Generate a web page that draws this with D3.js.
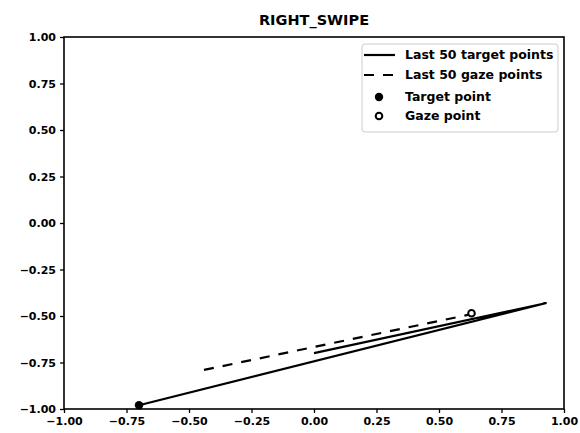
<!DOCTYPE html>
<html>
<head>
<meta charset="utf-8">
<script src="https://cdn.jsdelivr.net/npm/d3@7"></script>
<style>
  body { margin: 0; background: #fff; }
  text { font-family: "DejaVu Sans", sans-serif; fill: #000; }
</style>
</head>
<body>
<div id="VizBox"></div>
<script>
// data
var targetX = [0.00, 0.93, -0.70];
var targetY = [-0.70, -0.43, -0.98];
var gazeX = [-0.44, 0.63];
var gazeY = [-0.79, -0.49];
var targetPoint = [-0.70, -0.98];
var gazePoint = [0.63, -0.485];
var ticks = [-1.00, -0.75, -0.50, -0.25, 0.00, 0.25, 0.50, 0.75, 1.00];
var legendLabels = ["Last 50 target points", "Last 50 gaze points", "Target point", "Gaze point"];

var margin = {top: 37, right: 16, bottom: 24, left: 64},
    width = 580 - margin.left - margin.right,
    height = 433 - margin.top - margin.bottom;

var svg = d3.select("#VizBox")
  .append("svg")
    .attr("width", 580)
    .attr("height", 433)
  .append("g")
    .attr("transform", "translate(" + margin.left + "," + margin.top + ")");

var x = d3.scaleLinear().domain([-1, 1]).range([0, width]);
var y = d3.scaleLinear().domain([-1, 1]).range([height, 0]);

var fmt = function(d) { return d3.format(".2f")(d).replace("-", "\u2212"); };

var xAxis = svg.append("g")
  .attr("transform", "translate(0," + height + ")")
  .call(d3.axisBottom(x).tickValues(ticks).tickFormat(fmt).tickSize(4).tickPadding(4));
var yAxis = svg.append("g")
  .call(d3.axisLeft(y).tickValues(ticks).tickFormat(fmt).tickSize(4).tickPadding(4));

[xAxis, yAxis].forEach(function(a) {
  a.select(".domain").remove();
  a.selectAll(".tick line").attr("stroke", "#000").attr("stroke-width", 1.3);
  a.selectAll(".tick text").style("font-size", "11px").style("font-weight", "bold")
    .style("font-family", "DejaVu Sans");
});

// frame
svg.append("rect")
  .attr("width", width).attr("height", height)
  .attr("fill", "none").attr("stroke", "#000").attr("stroke-width", 1.6);

var line = d3.line()
  .x(function(d) { return x(d[0]); })
  .y(function(d) { return y(d[1]); });

var target = targetX.map(function(v, i) { return [v, targetY[i]]; });
var gaze = gazeX.map(function(v, i) { return [v, gazeY[i]]; });

svg.append("path").datum(target)
  .attr("d", line).attr("fill", "none").attr("stroke", "#000").attr("stroke-width", 2.2);
svg.append("path").datum(gaze)
  .attr("d", line).attr("fill", "none").attr("stroke", "#000").attr("stroke-width", 2.2)
  .attr("stroke-dasharray", "10,9");

svg.append("circle")
  .attr("cx", x(targetPoint[0])).attr("cy", y(targetPoint[1])).attr("r", 4.2)
  .attr("fill", "#000");
svg.append("circle")
  .attr("cx", x(gazePoint[0])).attr("cy", y(gazePoint[1])).attr("r", 3.3)
  .attr("fill", "#fff").attr("stroke", "#000").attr("stroke-width", 2);

// title
svg.append("text")
  .attr("x", width / 2).attr("y", -12)
  .attr("text-anchor", "middle")
  .style("font-size", "14.5px").style("font-weight", "bold")
  .text("RIGHT_SWIPE");

// legend
var lg = svg.append("g").attr("transform", "translate(" + (362 - margin.left) + "," + (44 - margin.top) + ")");
lg.append("rect")
  .attr("width", 196).attr("height", 88).attr("rx", 3)
  .attr("fill", "#fff").attr("stroke", "#ccc").attr("stroke-width", 1);

var rowY = [11, 31, 53, 72];
legendLabels.forEach(function(lab, i) {
  var ry = rowY[i];
  if (i === 0) {
    lg.append("line").attr("x1", 2).attr("x2", 33).attr("y1", ry).attr("y2", ry)
      .attr("stroke", "#000").attr("stroke-width", 2.2);
  } else if (i === 1) {
    lg.append("line").attr("x1", 2).attr("x2", 33).attr("y1", ry).attr("y2", ry)
      .attr("stroke", "#000").attr("stroke-width", 2.2).attr("stroke-dasharray", "10,9");
  } else if (i === 2) {
    lg.append("circle").attr("cx", 17).attr("cy", ry).attr("r", 4.2).attr("fill", "#000");
  } else {
    lg.append("circle").attr("cx", 17).attr("cy", ry).attr("r", 3.3)
      .attr("fill", "#fff").attr("stroke", "#000").attr("stroke-width", 2);
  }
  lg.append("text").attr("x", 43).attr("y", ry).attr("dy", "0.35em")
    .style("font-size", "12.5px").style("font-weight", "bold").text(lab);
});
</script>
</body>
</html>
